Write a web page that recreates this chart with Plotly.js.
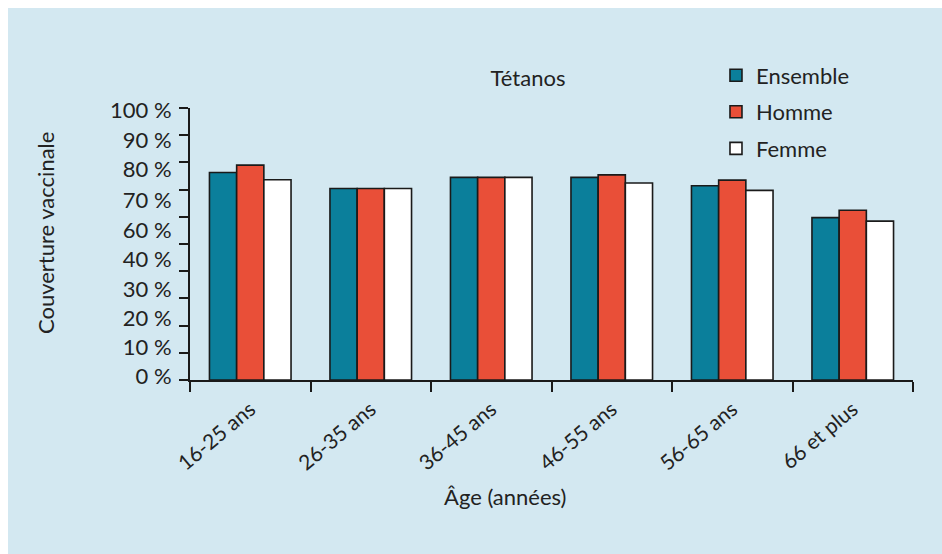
<!DOCTYPE html>
<html>
<head>
<meta charset="utf-8">
<script src="https://cdn.plot.ly/plotly-3.0.1.min.js"></script>
<style>
  html, body { margin: 0; padding: 0; background: #ffffff; }
  #chart { position: absolute; left: 8px; top: 8px; width: 934px; height: 546px; }
</style>
</head>
<body>
<div id="chart"></div>
<script>
const categories = ['16-25 ans', '26-35 ans', '36-45 ans', '46-55 ans', '56-65 ans', '66 et plus'];
const ensemble = [76.3, 70.4, 74.5, 74.5, 71.4, 59.7];
const homme    = [79.0, 70.4, 74.5, 75.4, 73.5, 62.4];
const femme    = [73.6, 70.4, 74.5, 72.4, 69.7, 58.4];
const seriesNames = ['Ensemble', 'Homme', 'Femme'];
// y tick labels as printed in the reference (note: "50 %" is absent there)
const yLabelText = ['100 %', '90 %', '80 %', '70 %', '60 %', '40 %', '30 %', '20 %', '10 %', '0 %'];
const yLabelPos  = [99.1, 88.3, 77.3, 66.2, 55.2, 44.4, 33.5, 22.7, 11.9, 1.2];

const FONT = 'Lato, "Open Sans", sans-serif';
const TXT = '#222222';
const colors = ['#0b7f9b', '#e94f38', '#ffffff'];
const values = [ensemble, homme, femme];

const traces = values.map((v, i) => ({
  type: 'bar',
  name: seriesNames[i],
  x: categories,
  y: v,
  legendgroup: 'g' + i,
  marker: { color: colors[i], line: { color: '#1a1a1a', width: 1.6 } },
  hoverinfo: 'x+y+name'
}));
// invisible helper trace to carry the label axis
traces.push({ type: 'scatter', x: [categories[0]], y: [0], yaxis: 'y2', mode: 'markers',
  marker: { opacity: 0 }, showlegend: false, hoverinfo: 'skip' });

const layout = {
  width: 934, height: 546,
  paper_bgcolor: '#d3e8f1',
  plot_bgcolor: 'rgba(0,0,0,0)',
  margin: { l: 182, r: 29, t: 100, b: 174, autoexpand: false },
  font: { family: FONT, size: 22, color: TXT },
  barmode: 'group',
  bargap: 0.323,
  bargroupgap: 0,
  showlegend: true,
  title: {
    text: 'Tétanos',
    font: { family: FONT, size: 22, color: TXT },
    xref: 'container', x: 0.5567, xanchor: 'center',
    yref: 'container', y: 0.872, yanchor: 'middle'
  },
  legend: {
    xref: 'paper', yref: 'paper',
    x: 0.7275, xanchor: 'left', y: 1.197, yanchor: 'top',
    bgcolor: 'rgba(0,0,0,0)',
    font: { family: FONT, size: 22, color: TXT },
    tracegroupgap: 5,
    traceorder: 'grouped'
  },
  xaxis: {
    type: 'category',
    tickson: 'boundaries',
    ticks: 'outside', ticklen: 10, tickwidth: 2, tickcolor: '#1a1a1a',
    showline: true, linewidth: 2, linecolor: '#1a1a1a',
    showgrid: false, zeroline: false,
    tickangle: -40,
    ticklabelstandoff: 7,
    automargin: false,
    tickfont: { family: FONT, size: 21, color: TXT }
  },
  yaxis: {
    range: [0, 100], tick0: 0, dtick: 10,
    ticks: 'outside', ticklen: 9, tickwidth: 2, tickcolor: '#1a1a1a',
    showticklabels: false,
    showline: true, linewidth: 2, linecolor: '#1a1a1a',
    showgrid: false, zeroline: false, fixedrange: true, automargin: false
  },
  yaxis2: {
    overlaying: 'y', side: 'left', anchor: 'x',
    range: [0, 100],
    tickmode: 'array', tickvals: yLabelPos, ticktext: yLabelText,
    ticks: 'outside', ticklen: 9, tickcolor: 'rgba(0,0,0,0)',
    ticklabelstandoff: 4,
    showline: false, showgrid: false, zeroline: false, automargin: false,
    tickfont: { family: FONT, size: 22, color: TXT }
  },
  annotations: [
    { text: 'Âge (années)', xref: 'paper', yref: 'paper', x: 0.4357, y: -0.43,
      xanchor: 'center', yanchor: 'middle', showarrow: false,
      font: { family: FONT, size: 22, color: TXT } },
    { text: 'Couverture vaccinale', xref: 'paper', yref: 'paper', x: -0.1999, y: 0.542,
      xanchor: 'center', yanchor: 'middle', showarrow: false, textangle: -90,
      font: { family: FONT, size: 22, color: TXT } }
  ]
};

Plotly.newPlot('chart', traces, layout, { displayModeBar: false, staticPlot: true });
</script>
</body>
</html>
